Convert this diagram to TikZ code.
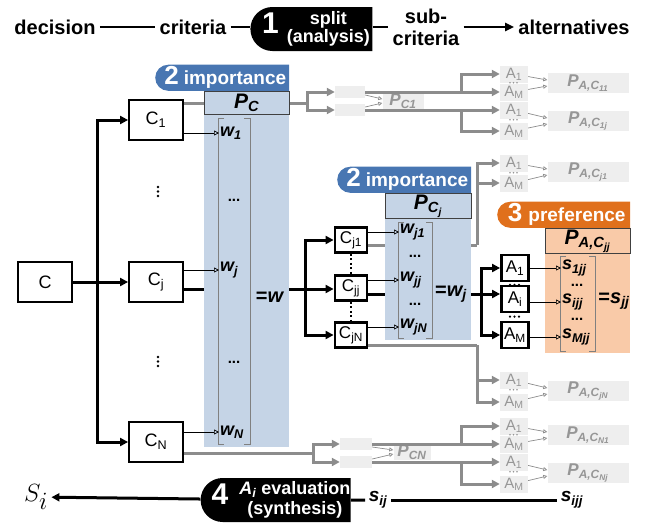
\documentclass[tikz,border=0pt]{standalone}
\usepackage{fontspec}
\setmainfont{Liberation Sans}
\usepackage{tikz}
\usetikzlibrary{arrows.meta,positioning,shapes.misc,calc}

\definecolor{impblue}{RGB}{72,118,178}
\definecolor{panelblue}{RGB}{197,212,230}
\definecolor{preforange}{RGB}{224,112,28}
\definecolor{panelorange}{RGB}{249,202,168}
\definecolor{ghostfill}{RGB}{238,238,238}
\definecolor{ghosttext}{RGB}{150,150,150}
\definecolor{ghostline}{RGB}{140,140,140}

\newcommand{\vsym}[2]{\textbf{\textit{#1\textsubscript{#2}}}}
\renewcommand{\arraystretch}{0.85}

\begin{document}
\begin{tikzpicture}[x=1pt, y=-1pt,
    bigtext/.style={font=\fontsize{20}{22}\selectfont\bfseries, inner sep=4pt},
    phasetag/.style={shape=rounded rectangle, rounded rectangle right arc=none, fill=black, text=white, minimum height=44, inner sep=3pt, font=\fontsize{18}{19}\selectfont\bfseries},
    phasetab/.style={shape=rounded rectangle, rounded rectangle right arc=none, text=white, minimum height=25, inner sep=2pt, anchor=south east, font=\fontsize{19}{20}\selectfont\bfseries},
    cbox/.style={draw, line width=1.8, minimum width=54, minimum height=40, inner sep=1pt, font=\fontsize{18}{20}\selectfont},
    sbox/.style={draw, line width=2.8, minimum width=32, minimum height=25, inner sep=0pt, font=\fontsize{17}{19}\selectfont},
    panel/.style={anchor=north west, inner sep=0pt},
    probbox/.style={draw=black!75, line width=1.2, inner sep=0pt, anchor=north, font=\fontsize{21}{22}\selectfont},
    entry/.style={anchor=west, inner sep=1pt, font=\fontsize{18}{20}\selectfont},
    edots/.style={inner sep=0pt, font=\fontsize{15}{16}\selectfont\bfseries},
    vbracket/.style={draw=black!50, line width=0.9},
    dotrow/.style={line width=2.6, line cap=round, dash pattern=on 0pt off 4.5pt},
    thinarrow/.style={-{Triangle[open,length=5pt,width=5pt]}, line width=0.7},
    thickline/.style={line width=3},
    thickarrow/.style={thickline, -{Triangle[length=8pt,width=8pt]}},
    gline/.style={draw=ghostline, line width=3},
    garrow/.style={gline, -{Triangle[length=8pt,width=8pt]}},
    gthin/.style={draw=ghostline, line width=0.7, -{Triangle[open,length=4pt,width=4pt]}},
    gmid/.style={fill=ghostfill, minimum width=30, minimum height=12, inner sep=0pt},
    galt/.style={fill=ghostfill, text=ghosttext, minimum width=28, minimum height=17, inner sep=0pt, font=\fontsize{15}{15}\selectfont},
    gdotrow/.style={draw=ghosttext, line width=1.8, line cap=round, dash pattern=on 0pt off 3.5pt},
    gprob/.style={fill=ghostfill, text=ghosttext, minimum width=81, minimum height=20, inner sep=0pt, font=\fontsize{17}{18}\selectfont}]
    \useasboundingbox (0,0) rectangle (646,531);

    % top row
    \node[bigtext] (dec) at (55,27) {decision};
    \node[bigtext] (crit) at (193,27) {criteria};
    \node[phasetag, minimum width=128] (split) at (316,29) {\fontsize{30}{30}\selectfont 1\hspace{8pt}\fontsize{18}{19}\selectfont\begin{tabular}{@{}c@{}}split\\(analysis)\end{tabular}};
    \node[bigtext, align=center] (sub) at (426,27) {sub-\\criteria};
    \node[bigtext] (alt) at (574,27) {alternatives};
    \draw[line width=2.2] (dec) -- (crit);
    \draw[line width=2.2] (crit) -- (crit -| split.west);
    \draw[line width=2.2] (split.east |- sub) -- (sub);
    \draw[line width=2.2, -{Triangle[length=9pt,width=8pt]}] (sub) -- (alt);

    % criteria
    \node[cbox] (C) at (45,282) {C};
    \node[cbox] (C1) at (156,120) {C\textsubscript{1}};
    \node[cbox] (Cj) at (156,282) {C\textsubscript{j}};
    \node[cbox] (CN) at (156,442) {C\textsubscript{N}};
    \draw[dotrow] (158,187) -- (158,200);
    \draw[dotrow] (158,357) -- (158,370);
    \coordinate (t1) at (97,282);
    \draw[thickline] (C) -- (t1);
    \draw[thickarrow] (t1) |- (C1);
    \draw[thickarrow] (t1) -- (Cj);
    \draw[thickarrow] (t1) |- (CN);

    % sub-criteria of C_j
    \node[sbox] (Cj1) at (351,240) {C\textsubscript{j1}};
    \node[sbox] (Cjj) at (351,288) {C\textsubscript{jj}};
    \node[sbox] (CjN) at (351,335) {C\textsubscript{jN}};
    \draw[line width=2.6, dash pattern=on 2pt off 2.5pt] (Cj1) -- (Cjj);
    \draw[line width=2.6, dash pattern=on 2pt off 2.5pt] (Cjj) -- (CjN);
    \coordinate (t2) at (305,289);
    \draw[thickline] (Cj.east |- t2) -- (t2);
    \draw[thickarrow] (t2) |- (Cj1);
    \draw[thickarrow] (t2) -- (t2 -| Cjj.west);
    \draw[thickarrow] (t2) |- (CjN);

    % alternatives under C_jj
    \node[sbox, minimum width=27, minimum height=26] (A1) at (515,268) {A\textsubscript{1}};
    \node[sbox, minimum width=27, minimum height=26] (Ai) at (515,299) {A\textsubscript{i}};
    \node[sbox, minimum width=27, minimum height=26] (AM) at (515,335) {A\textsubscript{M}};
    \draw[dotrow, line width=2.4] ($(A1.south)+(-5,2.5)$) -- ($(A1.south)+(5,2.5)$);
    \draw[dotrow, line width=2.4] ($(AM.north)+(-5,-4)$) -- ($(AM.north)+(5,-4)$);
    \coordinate (t3) at (481,294);
    \draw[thickline] (Cjj.east |- t3) -- (t3);
    \draw[thickarrow] (t3) |- (A1);
    \draw[thickarrow] (t3) -- (t3 -| Ai.west);
    \draw[thickarrow] (t3) |- (AM);

    % greyed branch of C_1
    \node[gmid] (g1a) at (350,92) {};
    \node[gmid] (g1b) at (350,110) {};
    \node[gprob, minimum width=41, minimum height=17] (PC1) at (403,101) {\textbf{\textit{P\textsubscript{C1}}}};
    \coordinate (s1) at (307,103);
    \draw[gline] (C1.east |- s1) -- (s1);
    \draw[garrow] (s1) |- (g1a);
    \draw[garrow] (s1) |- (g1b);
    \draw[gthin] ($(g1a.east)+(0,3)$) -- ($(PC1.west)+(0,-2)$);
    \draw[gthin] ($(g1b.east)+(0,-3)$) -- ($(PC1.west)+(0,2)$);

    \node[galt] (ga1) at (514,74) {A\textsubscript{1}};
    \node[galt] (gm1) at (514,92) {A\textsubscript{M}};
    \draw[gdotrow] ($(ga1.south)+(-4,0)$) -- ($(ga1.south)+(4,0)$);
    \node[gprob] (P1) at (588,83) {\textbf{\textit{P\textsubscript{A,C\textsubscript{11}}}}};
    \coordinate (b1) at (461,92);
    \draw[garrow] (g1a) -- (g1a -| gm1.west);
    \draw[garrow] (b1) |- (ga1);
    \draw[gthin] (ga1) -- ($(P1.west)+(0,-3)$);
    \draw[gthin] (gm1) -- ($(P1.west)+(0,3)$);

    \node[galt] (ga2) at (514,110) {A\textsubscript{1}};
    \node[galt] (gm2) at (514,131) {A\textsubscript{M}};
    \draw[gdotrow] ($(ga2.south)+(-4,1)$) -- ($(ga2.south)+(4,1)$);
    \node[gprob] (P2) at (588,121) {\textbf{\textit{P\textsubscript{A,C\textsubscript{1j}}}}};
    \coordinate (b2) at (461,110);
    \draw[garrow] (g1b) -- (g1b -| ga2.west);
    \draw[garrow] (b2) |- (gm2);
    \draw[gthin] (ga2) -- ($(P2.west)+(0,-3)$);
    \draw[gthin] (gm2) -- ($(P2.west)+(0,3)$);

    % greyed branch of C_j1
    \node[galt] (ga3) at (514,163) {A\textsubscript{1}};
    \node[galt] (gm3) at (514,183) {A\textsubscript{M}};
    \draw[gdotrow] ($(ga3.south)+(-4,1)$) -- ($(ga3.south)+(4,1)$);
    \node[gprob] (P3) at (588,172) {\textbf{\textit{P\textsubscript{A,C\textsubscript{j1}}}}};
    \coordinate (s3) at (477,245);
    \draw[gline] (Cj1.east |- s3) -- (s3);
    \draw[garrow] (s3) |- (ga3);
    \draw[garrow] (s3) |- (gm3);
    \draw[gthin] (ga3) -- ($(P3.west)+(0,-3)$);
    \draw[gthin] (gm3) -- ($(P3.west)+(0,3)$);

    % greyed branch of C_jN
    \node[galt] (ga4) at (514,380) {A\textsubscript{1}};
    \node[galt] (gm4) at (514,402) {A\textsubscript{M}};
    \draw[gdotrow] ($(ga4.south)+(-4,1)$) -- ($(ga4.south)+(4,1)$);
    \node[gprob] (P4) at (588,391) {\textbf{\textit{P\textsubscript{A,C\textsubscript{jN}}}}};
    \coordinate (s4) at (477,345);
    \draw[gline] (CjN.east |- s4) -- (s4);
    \draw[garrow] (s4) |- (ga4);
    \draw[garrow] (s4) |- (gm4);
    \draw[gthin] (ga4) -- ($(P4.west)+(0,-3)$);
    \draw[gthin] (gm4) -- ($(P4.west)+(0,3)$);

    % greyed branch of C_N
    \node[gmid, minimum width=32] (gNa) at (356,444) {};
    \node[gmid, minimum width=32] (gNb) at (356,462) {};
    \node[gprob, minimum width=37, minimum height=16] (PCN) at (412,452) {\textbf{\textit{P\textsubscript{CN}}}};
    \coordinate (s2) at (313,453);
    \draw[gline] (CN.east |- s2) -- (s2);
    \draw[garrow] (s2) |- (gNa);
    \draw[garrow] (s2) |- (gNb);
    \draw[gthin] ($(gNa.east)+(0,3)$) -- ($(PCN.west)+(0,-2)$);
    \draw[gthin] ($(gNb.east)+(0,-3)$) -- ($(PCN.west)+(0,2)$);

    \node[galt] (ga5) at (514,426) {A\textsubscript{1}};
    \node[galt] (gm5) at (514,444) {A\textsubscript{M}};
    \draw[gdotrow] ($(ga5.south)+(-4,0)$) -- ($(ga5.south)+(4,0)$);
    \node[gprob] (P5) at (588,435) {\textbf{\textit{P\textsubscript{A,C\textsubscript{N1}}}}};
    \coordinate (b5) at (461,444);
    \draw[garrow] (gNa) -- (gNa -| gm5.west);
    \draw[garrow] (b5) |- (ga5);
    \draw[gthin] (ga5) -- ($(P5.west)+(0,-3)$);
    \draw[gthin] (gm5) -- ($(P5.west)+(0,3)$);

    \node[galt] (ga6) at (514,462) {A\textsubscript{1}};
    \node[galt] (gm6) at (514,484) {A\textsubscript{M}};
    \draw[gdotrow] ($(ga6.south)+(-4,1)$) -- ($(ga6.south)+(4,1)$);
    \node[gprob] (P6) at (588,473) {\textbf{\textit{P\textsubscript{A,C\textsubscript{Nj}}}}};
    \coordinate (b6) at (461,462);
    \draw[garrow] (gNb) -- (gNb -| ga6.west);
    \draw[garrow] (b6) |- (gm6);
    \draw[gthin] (ga6) -- ($(P6.west)+(0,-3)$);
    \draw[gthin] (gm6) -- ($(P6.west)+(0,3)$);

    % importance of the criteria
    \node[panel, fill=panelblue, minimum width=85, minimum height=356] (pan1) at (204,91) {};
    \node[probbox, fill=panelblue, minimum width=85, minimum height=23] (PC) at (pan1.north) {\vsym{P}{C}};
    \node[phasetab, fill=impblue, minimum width=138] (imp1) at (pan1.north east) {{\fontsize{26}{26}\selectfont 2}\hspace{5pt}importance};
    \draw[vbracket] (224,118) -| (218,444) -- (224,444);
    \draw[vbracket] (244,118) -| (250,444) -- (244,444);
    \node[entry] (w1) at (219,133) {\vsym{w}{1}};
    \node[edots] (wd1) at (234,200) {...};
    \node[entry] (wj) at (219,270) {\vsym{w}{j}};
    \node[edots] (wd2) at (234,362) {...};
    \node[entry] (wN) at (219,432) {\vsym{w}{N}};
    \node[font=\fontsize{20}{21}\selectfont\bfseries] (eqw) at (270,297) {=\textit{w}};
    \draw[thinarrow] (C1.east |- w1) -- (w1.west);
    \draw[thinarrow] (Cj.east |- wj) -- (wj.west);
    \draw[thinarrow] (CN.east |- wN) -- (wN.west);

    % importance of the sub-criteria
    \node[panel, fill=panelblue, minimum width=86, minimum height=147] (pan2) at (385,193) {};
    \node[probbox, fill=panelblue, minimum width=86, minimum height=25] (PCj) at (pan2.north) {\textbf{\textit{P\textsubscript{C\textsubscript{j}}}}};
    \node[phasetab, fill=impblue, minimum width=138] (imp2) at (pan2.north east) {{\fontsize{26}{26}\selectfont 2}\hspace{5pt}importance};
    \draw[vbracket] (404,222) -| (398,338) -- (404,338);
    \draw[vbracket] (426,222) -| (432,338) -- (426,338);
    \node[entry] (wj1) at (399,232) {\vsym{w}{j1}};
    \node[edots] at (415,256) {...};
    \node[entry] (wjj) at (399,280) {\vsym{w}{jj}};
    \node[edots] at (415,304) {...};
    \node[entry] (wjN) at (399,327) {\vsym{w}{jN}};
    \node[font=\fontsize{20}{21}\selectfont\bfseries] (eqwj) at (451,294) {=\textit{w\textsubscript{j}}};
    \draw[thinarrow] (Cj1.east |- wj1) -- (wj1.west);
    \draw[thinarrow] (Cjj.east |- wjj) -- (wjj.west);
    \draw[thinarrow] (CjN.east |- wjN) -- (wjN.west);

    % preference of the alternatives
    \node[panel, fill=panelorange, minimum width=85, minimum height=125] (pan3) at (545,228) {};
    \node[probbox, fill=panelorange, minimum width=85, minimum height=25] (PAC) at (pan3.north) {\textbf{\textit{P\textsubscript{A,C\textsubscript{jj}}}}};
    \node[phasetab, fill=preforange, minimum width=137] (pref) at (pan3.north east) {{\fontsize{26}{26}\selectfont 3}\hspace{6pt}preference};
    \draw[vbracket] (566,256) -| (560,351) -- (566,351);
    \draw[vbracket] (589,256) -| (595,351) -- (589,351);
    \node[entry] (s1jj) at (561,268) {\vsym{s}{1jj}};
    \node[edots] at (577,285) {...};
    \node[entry] (sijj) at (561,302) {\vsym{s}{ijj}};
    \node[edots] at (577,319) {...};
    \node[entry] (sMjj) at (561,337) {\vsym{s}{Mjj}};
    \node[font=\fontsize{20}{21}\selectfont\bfseries] (eqs) at (614,301) {=\textit{s\textsubscript{jj}}};
    \draw[thinarrow] (A1.east |- s1jj) -- (s1jj.west);
    \draw[thinarrow] (Ai.east |- sijj) -- (sijj.west);
    \draw[thinarrow] (AM.east |- sMjj) -- (sMjj.west);

    % bottom row
    \node[phasetag, minimum width=156] (synth) at (281,500) {{\fontsize{30}{30}\selectfont 4}\hspace{11pt}\begin{tabular}{@{}c@{}}\textit{A\textsubscript{i}} evaluation\\[2pt](synthesis)\end{tabular}};
    \node (Si) at (36,497) {\fontsize{48}{48}\selectfont $S_i$};
    \node[font=\fontsize{19}{20}\selectfont\bfseries\itshape] (sij) at (378,500) {s\textsubscript{ij}};
    \node[font=\fontsize{19}{20}\selectfont\bfseries\itshape] (sijjb) at (572,500) {s\textsubscript{ijj}};
    \draw[thickarrow] (synth) -- (Si);
    \draw[thickline] (synth) -- (sij);
    \draw[thickline] (sij) -- (sijjb);
\end{tikzpicture}
\end{document}
